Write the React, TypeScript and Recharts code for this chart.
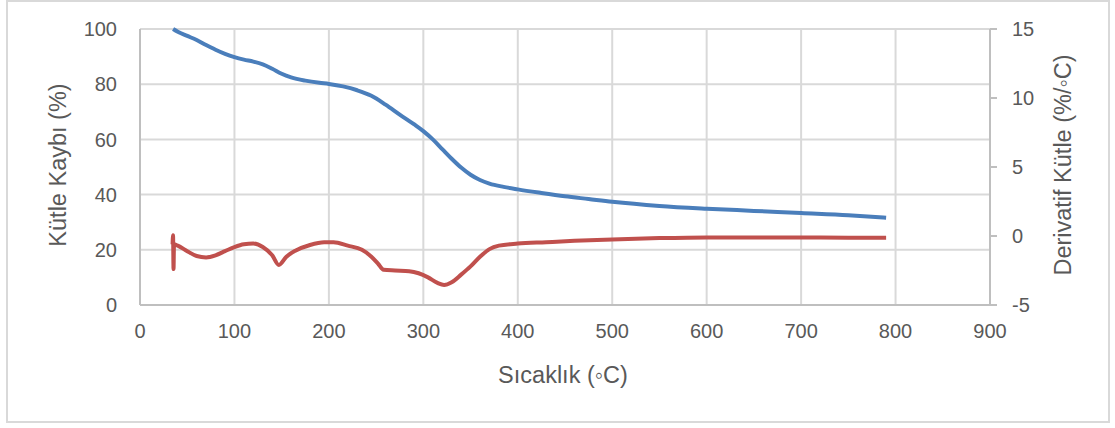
import { CartesianGrid, ComposedChart, Line, XAxis, YAxis } from "recharts";

// Kütle kaybı eğrisi (sol eksen, %)
const massTemps = [
  35, 40, 50, 60, 70, 80, 90, 100, 110, 120, 130, 140, 150, 160, 175, 190, 200, 215, 230, 245, 260, 275,
  290, 300, 310, 320, 330, 340, 350, 360, 370, 385, 400, 425, 450, 475, 500, 550, 600, 650, 700, 750, 790,
];
const massValues = [
  100, 99.0, 97.5, 96.0, 94.2, 92.5, 91.0, 89.8, 88.9, 88.2, 87.2, 85.6, 83.8, 82.5, 81.3, 80.5, 80.1, 79.2,
  77.8, 75.8, 72.6, 69.0, 65.5, 63.0, 60.0, 56.5, 53.0, 49.8, 47.2, 45.3, 44.0, 42.8, 41.9, 40.6, 39.4, 38.4,
  37.4, 35.9, 34.9, 34.1, 33.3, 32.5, 31.6,
];

// Türev eğrisi (sağ eksen, %/°C)
const derivTemps = [
  34.5, 35, 35.5, 36, 40, 50, 60, 70, 80, 90, 100, 110, 120, 130, 140, 147, 155, 165, 180, 195, 205, 220, 235,
  245, 252, 258, 270, 285, 295, 305, 315, 322, 330, 340, 350, 360, 370, 380, 400, 430, 460, 500, 550, 600, 650,
  700, 750, 790,
];
const derivValues = [
  -0.6, 0.05, -2.4, -0.6, -0.7, -1.1, -1.45, -1.55, -1.4, -1.1, -0.8, -0.6, -0.55, -0.8, -1.4, -2.1, -1.5,
  -1.05, -0.65, -0.45, -0.45, -0.7, -1.0, -1.5, -2.0, -2.45, -2.5, -2.55, -2.7, -3.0, -3.4, -3.55, -3.35, -2.8,
  -2.2, -1.5, -0.95, -0.7, -0.55, -0.45, -0.35, -0.25, -0.15, -0.1, -0.1, -0.1, -0.12, -0.12,
];

const xTicks = [0, 100, 200, 300, 400, 500, 600, 700, 800, 900];
const leftTicks = [0, 20, 40, 60, 80, 100];
const rightTicks = [-5, 0, 5, 10, 15];

const massData = massTemps.map((t, i) => ({ t, mass: massValues[i] }));
const derivData = derivTemps.map((t, i) => ({ t, deriv: derivValues[i] }));

const FONT = "'Liberation Sans', Arial, sans-serif";
const TEXT = "#595959";
const AXIS = "#bfbfbf";
const GRID = "#d9d9d9";

const titleStyle = {
  position: "absolute" as const,
  whiteSpace: "nowrap" as const,
  fontFamily: FONT,
  fontSize: 23.5,
  color: TEXT,
};

export default function App() {
  const tick = { fill: TEXT, fontSize: 20, fontFamily: FONT };
  return (
    <div style={{ position: "absolute", left: 0, top: 0, width: 1115, height: 428, background: "#fff" }}>
      <div
        style={{
          position: "absolute",
          left: 6,
          top: 0,
          width: 1104,
          height: 423,
          border: `2px solid ${GRID}`,
          boxSizing: "border-box",
        }}
      />
      <ComposedChart
        width={1115}
        height={428}
        margin={{ top: 29, right: 65, bottom: 83, left: 80 }}
        style={{ position: "absolute", left: 0, top: 0 }}
      >
        <CartesianGrid yAxisId="left" stroke={GRID} strokeWidth={2} />
        <XAxis
          dataKey="t"
          type="number"
          domain={[0, 900]}
          ticks={xTicks}
          allowDuplicatedCategory={false}
          height={40}
          tick={tick}
          tickLine={false}
          tickMargin={13}
          axisLine={{ stroke: AXIS, strokeWidth: 2 }}
        />
        <YAxis
          yAxisId="left"
          domain={[0, 100]}
          ticks={leftTicks}
          width={60}
          tick={tick}
          tickLine={false}
          tickMargin={17}
          axisLine={{ stroke: AXIS, strokeWidth: 2 }}
        />
        <YAxis
          yAxisId="right"
          orientation="right"
          domain={[-5, 15]}
          ticks={rightTicks}
          width={60}
          tick={tick}
          tickSize={7}
          tickMargin={15}
          tickLine={{ stroke: AXIS, strokeWidth: 2 }}
          axisLine={{ stroke: AXIS, strokeWidth: 2 }}
        />
        <Line
          yAxisId="left"
          data={massData}
          dataKey="mass"
          type="monotone"
          stroke="#4a7ebb"
          strokeWidth={4}
          dot={false}
          isAnimationActive={false}
        />
        <Line
          yAxisId="right"
          data={derivData}
          dataKey="deriv"
          type="monotone"
          stroke="#c0504d"
          strokeWidth={4}
          dot={false}
          isAnimationActive={false}
        />
      </ComposedChart>
      <div style={{ ...titleStyle, left: 563, top: 375, transform: "translate(-50%, -50%)" }}>
        Sıcaklık (◦C)
      </div>
      <div style={{ ...titleStyle, left: 58, top: 165, transform: "translate(-50%, -50%) rotate(-90deg)" }}>
        Kütle Kaybı (%)
      </div>
      <div style={{ ...titleStyle, left: 1063, top: 165, transform: "translate(-50%, -50%) rotate(-90deg)" }}>
        Derivatif Kütle (%/◦C)
      </div>
    </div>
  );
}
